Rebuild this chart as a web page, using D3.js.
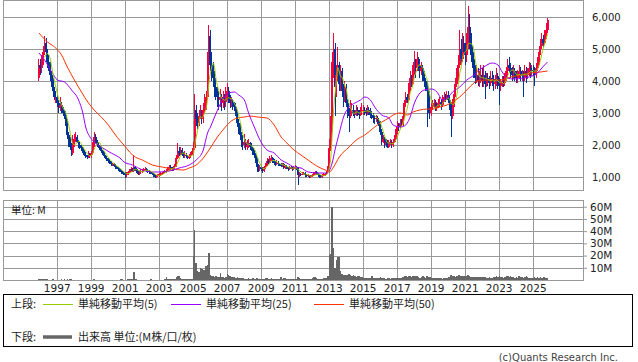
<!DOCTYPE html>
<html>
<head>
<meta charset="utf-8">
<script src="https://cdn.jsdelivr.net/npm/d3@7"></script>
<style>
  body { margin: 0; background: #fff; }
  svg { display: block; font-family: "DejaVu Sans", sans-serif; }
  .jp { font-family: "Noto Sans CJK JP", sans-serif; }
</style>
</head>
<body>
<svg id="chart" width="638" height="362"></svg>
<script>
// monthly candles, Dec 1995 .. Nov 2025 (open = previous close)
const firstMonth = "1995-12";
const firstOpen = 4100;

const close = [
  4500,
  4400, 4700, 4900, 5200, 4900, 4600, 4500, 4200, 4000, 3700, 3500, 3500,
  3300, 3150, 3250, 3100, 3000, 2950, 2700, 2300, 2100, 1950, 1750, 2050,
  2200, 2250, 2100, 2000, 1950, 1900, 1800, 1700, 1650, 1620, 1700, 1650,
  1750, 2000, 2250, 2150, 2050, 1950, 1900, 1800, 1750, 1650, 1600, 1550,
  1500, 1450, 1400, 1400, 1350, 1300, 1280, 1250, 1200, 1150, 1120, 1100,
  1050, 1100, 1150, 1200, 1250, 1200, 1300, 1250, 1180, 1100, 1150, 1180,
  1200, 1220, 1250, 1200, 1180, 1150, 1130, 1100, 1050, 1000, 1020, 1050,
  1080, 1100, 1120, 1150, 1180, 1200, 1250, 1300, 1280, 1250, 1300, 1350,
  1600, 1800, 1750, 1850, 1700, 1650, 1700, 1650, 1600, 1650, 1700, 1750,
  1900, 3100, 2800, 2700, 2900, 3000, 2800, 3100, 3300, 3500, 4500, 5400,
  4500, 4300, 4100, 3800, 3600, 3500, 3400, 3500, 3300, 3450, 3350, 3500,
  3700, 3400, 3300, 3350, 3250, 3200, 3000, 2700, 2500, 2300, 2100, 2000,
  2100, 1950, 2000, 2050, 1950, 1900, 1800, 1700, 1550, 1300, 1250, 1300,
  1250, 1200, 1300, 1400, 1500, 1450, 1550, 1600, 1500, 1450, 1400, 1450,
  1400, 1380, 1350, 1400, 1300, 1320, 1280, 1250, 1300, 1280, 1250, 1300,
  1300, 1250, 1050, 1100, 1080, 1100, 1120, 1050, 1030, 1050, 1000, 1020,
  1050, 1100, 1150, 1100, 1050, 1020, 1000, 1050, 1080, 1100, 1150, 1300,
  1900, 2600, 4600, 5000, 3800, 4200, 4500, 3900, 4300, 3700, 3500, 3800,
  3300, 3000, 2900, 3000, 3100, 3000, 2950, 3100, 3000, 2950, 3050, 3100,
  3100, 3050, 3000, 3100, 3050, 2950, 2900, 2850, 2800, 2850, 2750, 2700,
  2400, 2100, 2200, 2000, 2100, 1950, 2050, 2100, 2000, 2100, 2200, 2400,
  2600, 2550, 2700, 2650, 2900, 3300, 3500, 3400, 3800, 4100, 3900, 4300,
  4600, 4400, 4700, 4500, 4300, 4400, 4200, 4000, 3900, 3700, 3100, 3000,
  3200, 3250, 3300, 3150, 3200, 3300, 3350, 3250, 3400, 3500, 3450, 3550,
  3400, 3200, 2900, 3300, 3600, 3900, 4100, 4500, 5000, 4700, 5200, 4900,
  4800, 5200, 5700, 5300, 4800, 4700, 4300, 4100, 4200, 4000, 4100, 4200,
  4000, 4200, 3900, 4100, 4000, 3950, 4100, 4050, 3900, 4000, 4150, 3900,
  3850, 3900, 4000, 3950, 4100, 4300, 4500, 4400, 4300, 4200, 4300, 4150,
  4100, 4200, 4300, 4150, 4200, 4100, 4300, 4200, 4250, 4400, 4300, 4350,
  4300, 4200, 4400, 4600, 4900, 5100, 5300, 5200, 5400, 5600, 5900
];

const high = [
  4700,
  4700, 4800, 5100, 5400, 5350, 5000, 4800, 4600, 4300, 4100, 3800, 3700,
  3600, 3400, 3500, 3350, 3200, 3100, 3050, 2800, 2400, 2250, 2050, 2300,
  2350, 2400, 2300, 2150, 2100, 2000, 1950, 1850, 1780, 1700, 1800, 1750,
  1800, 2100, 2400, 2350, 2200, 2100, 2000, 1950, 1850, 1780, 1700, 1650,
  1600, 1550, 1500, 1450, 1450, 1400, 1350, 1320, 1280, 1230, 1200, 1160,
  1150, 1150, 1200, 1250, 1300, 1280, 1700, 1350, 1280, 1200, 1200, 1250,
  1260, 1280, 1300, 1280, 1240, 1220, 1190, 1160, 1130, 1080, 1060, 1100,
  1130, 1150, 1160, 1190, 1220, 1250, 1300, 1380, 1360, 1320, 1350, 1420,
  1700, 2050, 1950, 1950, 1900, 1780, 1800, 1750, 1700, 1720, 1780, 1820,
  2100, 3600, 3250, 3000, 3100, 3250, 3100, 3300, 3600, 3700, 4900, 5750,
  5600, 4900, 4600, 4300, 4000, 3800, 3700, 3750, 3600, 3700, 3600, 3800,
  3950, 3800, 3550, 3500, 3450, 3350, 3300, 3100, 2800, 2650, 2400, 2250,
  2350, 2200, 2150, 2200, 2100, 2050, 1950, 1850, 1750, 1600, 1400, 1380,
  1350, 1300, 1350, 1450, 1600, 1560, 1650, 1700, 1620, 1550, 1500, 1520,
  1500, 1450, 1430, 1450, 1430, 1380, 1360, 1320, 1340, 1350, 1320, 1350,
  1380, 1340, 1300, 1150, 1140, 1150, 1170, 1150, 1080, 1090, 1070, 1060,
  1090, 1150, 1200, 1180, 1120, 1080, 1060, 1090, 1120, 1140, 1200, 1350,
  2200, 2900, 4900, 5500, 5200, 4500, 5050, 4600, 4500, 4400, 3900, 4000,
  3900, 3450, 3150, 3400, 3300, 3250, 3100, 3250, 3200, 3100, 3200, 3300,
  3250, 3200, 3150, 3250, 3200, 3150, 3050, 3000, 2950, 2950, 2900, 2850,
  2750, 2500, 2300, 2250, 2200, 2150, 2150, 2200, 2150, 2200, 2300, 2500,
  2750, 2700, 2800, 2800, 3100, 3400, 3650, 3600, 3950, 4300, 4200, 4500,
  4950, 4700, 4900, 4750, 4600, 4600, 4500, 4300, 4100, 4000, 3800, 3300,
  3350, 3400, 3450, 3400, 3350, 3450, 3500, 3450, 3550, 3650, 3600, 3700,
  3700, 3550, 3350, 3450, 3750, 4100, 4400, 4800, 5600, 5300, 5500, 5400,
  5200, 5500, 6340, 6100, 5500, 5100, 4900, 4500, 4500, 4400, 4300, 4500,
  4400, 4500, 4300, 4250, 4250, 4150, 4300, 4300, 4200, 4200, 4400, 4250,
  4100, 4050, 4150, 4150, 4250, 4450, 4700, 4750, 4550, 4450, 4500, 4400,
  4300, 4350, 4500, 4450, 4350, 4300, 4500, 4450, 4400, 4600, 4550, 4500,
  4500, 4450, 4550, 4750, 5050, 5300, 5500, 5450, 5600, 5800, 5970
];

const low = [
  4000,
  4200, 4250, 4500, 4800, 4700, 4400, 4300, 4000, 3800, 3500, 3400, 3300,
  3200, 3000, 3050, 3000, 2900, 2800, 2600, 2200, 1950, 1850, 1650, 1700,
  1950, 2100, 2050, 1900, 1880, 1820, 1750, 1650, 1600, 1560, 1580, 1600,
  1600, 1700, 1950, 2050, 2000, 1900, 1850, 1750, 1700, 1600, 1550, 1500,
  1450, 1400, 1350, 1330, 1300, 1260, 1240, 1200, 1150, 1100, 1080, 1050,
  980, 1000, 1060, 1110, 1150, 1150, 1150, 1200, 1120, 1060, 1060, 1100,
  1140, 1160, 1180, 1160, 1130, 1100, 1080, 1060, 1000, 960, 960, 990,
  1010, 1040, 1060, 1080, 1110, 1140, 1160, 1200, 1230, 1200, 1200, 1270,
  1320, 1550, 1650, 1680, 1650, 1580, 1600, 1580, 1550, 1560, 1600, 1650,
  1700, 1850, 2600, 2500, 2600, 2800, 2650, 2700, 3000, 3100, 3400, 4300,
  4300, 4000, 3800, 3500, 3400, 3200, 3100, 3200, 3050, 3150, 3100, 3200,
  3400, 3300, 3150, 3200, 3100, 3050, 2900, 2550, 2350, 2150, 1950, 1850,
  1900, 1850, 1850, 1900, 1850, 1800, 1700, 1600, 1450, 1150, 1150, 1180,
  1180, 1120, 1150, 1250, 1350, 1400, 1400, 1500, 1450, 1380, 1350, 1360,
  1350, 1330, 1300, 1300, 1260, 1260, 1240, 1200, 1220, 1240, 1200, 1220,
  1240, 1220, 750, 1000, 1040, 1050, 1060, 1000, 990, 990, 960, 970,
  990, 1020, 1070, 1060, 1000, 980, 960, 980, 1020, 1040, 1060, 1120,
  1280, 1800, 2400, 4100, 2900, 3500, 4000, 3700, 3700, 3500, 3200, 3350,
  3200, 2850, 2400, 2850, 2900, 2900, 2850, 2900, 2900, 2800, 2900, 2950,
  2950, 2950, 2900, 2950, 2950, 2850, 2800, 2700, 2650, 2720, 2650, 2600,
  2300, 2000, 2050, 1900, 1950, 1900, 1900, 2000, 1920, 1950, 2050, 2150,
  2350, 2450, 2500, 2550, 2600, 2850, 3200, 3300, 3350, 3700, 3800, 3850,
  4200, 4100, 4300, 4300, 4100, 4200, 4000, 3800, 3700, 2560, 3000, 2800,
  2900, 3100, 3150, 3050, 3050, 3150, 3200, 3100, 3200, 3350, 3350, 3400,
  3300, 3100, 2250, 2800, 3200, 3500, 3800, 4000, 4400, 4500, 4600, 4700,
  4500, 4600, 5000, 5000, 4600, 4400, 4100, 3900, 3950, 3850, 3800, 3950,
  3800, 3800, 3450, 3800, 3850, 3750, 3850, 3850, 3700, 3750, 3850, 3750,
  3250, 3700, 3800, 3800, 3850, 4000, 4150, 4250, 4100, 4000, 4050, 4000,
  3950, 3950, 4050, 4000, 4000, 3500, 4000, 3950, 4050, 4150, 4100, 4150,
  4150, 3850, 4100, 4300, 4500, 4800, 5000, 5050, 5150, 5300, 5500
];

// volume, millions
const volume = [
  0.8,
  1.2, 0.8, 0.6, 0.7, 0.5, 0.5, 0.4, 0.4, 0.4, 0.5, 0.4, 0.4,
  0.4, 0.3, 0.3, 1.0, 0.3, 0.5, 0.4, 0.6, 0.4, 0.6, 0.5, 0.4,
  0.4, 0.3, 0.3, 0.3, 0.3, 0.3, 0.3, 0.3, 0.3, 0.3, 0.3, 0.3,
  0.3, 0.4, 0.5, 0.4, 0.3, 0.3, 0.3, 0.3, 0.3, 0.3, 0.3, 0.3,
  0.3, 0.3, 0.3, 0.3, 0.3, 0.3, 0.3, 0.3, 0.4, 0.8, 0.5, 0.3,
  0.4, 0.4, 0.5, 0.5, 0.6, 0.5, 6.3, 0.8, 0.5, 0.4, 0.4, 0.4,
  0.4, 0.4, 0.4, 0.4, 0.4, 0.4, 0.8, 0.4, 0.4, 0.4, 0.3, 0.3,
  0.3, 0.3, 0.3, 0.4, 0.5, 2.7, 1.2, 0.8, 0.6, 1.0, 0.6, 0.7,
  2.5, 3.3, 3.0, 1.5, 1.2, 1.0, 0.8, 1.0, 0.8, 0.9, 1.0, 1.2,
  20, 41, 14, 7, 6.5, 9.5, 9, 8, 8.5, 11.5, 12, 22.4,
  4.5, 3.5, 3.0, 2.5, 3.0, 2.5, 2.2, 5.5, 2.8, 2.5, 2.0, 2.2,
  4.9, 4.0, 3.0, 2.5, 2.5, 2.2, 2.0, 2.5, 1.8, 1.5, 1.5, 1.3,
  1.2, 1.0, 1.2, 1.5, 1.0, 1.0, 2.0, 0.8, 1.2, 1.8, 1.2, 1.0,
  0.9, 0.8, 1.0, 1.3, 2.0, 1.2, 1.0, 1.8, 1.0, 0.9, 0.8, 0.8,
  0.8, 0.7, 2.7, 1.0, 1.5, 1.5, 1.0, 0.9, 0.8, 0.8, 0.7, 0.8,
  0.9, 0.8, 2.2, 1.5, 1.0, 0.9, 0.8, 0.9, 0.8, 0.8, 0.7, 0.8,
  2.0, 2.5, 2.5, 1.5, 1.0, 0.9, 1.0, 1.2, 1.3, 1.5, 2.0, 3.0,
  20.5, 21, 60, 26, 10, 16.5, 19, 19, 7, 5, 4.5, 4,
  4.5, 4.0, 5.0, 4.5, 3.5, 4.0, 3.0, 2.5, 3.5, 3.0, 2.5, 2.2,
  2.0, 2.0, 1.8, 2.0, 1.5, 1.8, 3.0, 2.0, 1.5, 1.8, 1.5, 1.5,
  2.5, 2.0, 1.8, 1.5, 1.2, 1.3, 1.5, 1.2, 1.5, 1.3, 1.6, 2.0,
  2.0, 1.5, 1.8, 1.5, 2.5, 3.0, 3.5, 2.5, 3.0, 3.2, 2.5, 3.0,
  3.5, 3.0, 3.0, 2.5, 2.0, 2.5, 3.5, 2.5, 2.0, 3.0, 2.5, 2.2,
  2.0, 1.5, 1.5, 1.8, 1.5, 1.3, 1.5, 1.3, 1.2, 1.5, 1.3, 1.5,
  2.5, 2.5, 3.8, 3.5, 3.0, 2.5, 3.0, 4.5, 4.0, 3.0, 3.5, 3.0,
  3.0, 3.5, 4.0, 3.0, 2.5, 2.5, 2.5, 2.5, 2.5, 2.5, 2.2, 2.5,
  2.5, 2.5, 2.5, 2.0, 2.0, 2.5, 2.0, 2.0, 2.5, 2.2, 3.0, 2.5,
  3.0, 2.5, 2.5, 2.0, 2.5, 3.5, 3.0, 2.5, 3.0, 2.5, 2.5, 2.0,
  2.5, 2.0, 3.0, 2.5, 2.5, 2.0, 2.5, 3.0, 2.5, 2.0, 2.0, 2.0,
  2.0, 2.5, 2.0, 2.5, 2.0, 2.5, 2.0, 2.5, 2.5, 2.0, 1.5
];

// 25- and 50-month averages
const ma25Months = [
  "1995-12", "1996-04", "1996-09", "1997-01", "1997-06", "1997-11", "1998-04", "1998-07",
  "1998-09", "1998-12", "1999-03", "1999-08", "2000-03", "2000-10", "2000-12", "2001-06",
  "2002-01", "2002-08", "2003-01", "2003-08", "2004-03", "2004-10", "2005-03", "2005-08",
  "2005-11", "2006-01", "2006-04", "2006-07", "2006-11", "2007-02", "2007-06", "2007-09",
  "2008-01", "2008-04", "2008-08", "2008-12", "2009-05", "2009-10", "2010-03", "2010-07",
  "2010-12", "2011-05", "2011-10", "2012-05", "2012-11", "2013-03", "2013-05", "2013-08",
  "2013-11", "2014-03", "2014-07", "2014-11", "2015-02", "2015-06", "2015-09", "2016-02",
  "2016-07", "2016-10", "2017-03", "2017-06", "2017-10", "2018-01", "2018-05", "2018-08",
  "2019-01", "2019-05", "2019-09", "2020-01", "2020-04", "2020-09", "2021-02", "2021-07",
  "2021-09", "2022-02", "2022-08", "2022-12", "2023-03", "2023-07", "2023-11", "2024-06",
  "2024-12", "2025-04", "2025-07", "2025-11"
];
const ma25 = [
  4875, 4656, 4281, 4031, 3969, 3719, 3406, 3000,
  2562, 2250, 2094, 1937, 1750, 1562, 1469, 1375,
  1219, 1156, 1156, 1187, 1281, 1375, 1531, 1844,
  2375, 2562, 2875, 3187, 3500, 3625, 3656, 3562,
  3406, 3000, 2562, 2156, 1844, 1750, 1531, 1437,
  1312, 1281, 1156, 1125, 1125, 1437, 1844, 2375,
  2875, 3187, 3312, 3406, 3500, 3406, 3187, 2937,
  2844, 2625, 2562, 2594, 2875, 3312, 3625, 3719,
  3750, 3656, 3406, 3500, 3656, 3812, 4031, 4187,
  4281, 4437, 4562, 4500, 4281, 4094, 4062, 4094,
  4156, 4250, 4406, 4594
];

const ma50Months = [
  "1995-12", "1996-06", "1996-11", "1997-04", "1997-08", "1998-01", "1998-06", "1998-11",
  "1999-03", "1999-08", "2000-01", "2000-05", "2000-10", "2000-12", "2001-04", "2001-08",
  "2002-01", "2002-08", "2003-03", "2003-10", "2004-06", "2004-10", "2005-03", "2005-08",
  "2005-12", "2006-06", "2006-11", "2007-03", "2007-08", "2008-01", "2008-05", "2008-10",
  "2009-05", "2009-10", "2010-03", "2010-07", "2010-12", "2011-05", "2011-10", "2012-04",
  "2012-10", "2013-01", "2013-04", "2013-08", "2014-03", "2014-08", "2015-02", "2015-09",
  "2016-02", "2016-07", "2016-10", "2017-03", "2017-08", "2017-12", "2018-05", "2018-10",
  "2019-02", "2019-07", "2019-12", "2020-04", "2020-09", "2021-02", "2021-07", "2021-09",
  "2022-04", "2023-02", "2023-09", "2024-04", "2024-11", "2025-06", "2025-11"
];
const ma50 = [
  5500, 5219, 5062, 4812, 4437, 4031, 3656, 3312,
  3094, 2875, 2625, 2375, 2094, 2000, 1781, 1625,
  1531, 1375, 1312, 1250, 1219, 1281, 1375, 1594,
  1844, 2250, 2531, 2719, 2844, 2875, 2906, 2875,
  2844, 2625, 2250, 2062, 1844, 1687, 1531, 1344,
  1219, 1156, 1312, 1625, 1937, 2156, 2312, 2562,
  2719, 2844, 2937, 3000, 2937, 3031, 3094, 3125,
  3125, 3187, 3250, 3344, 3500, 3719, 3937, 4000,
  4031, 4031, 4125, 4187, 4250, 4281, 4312
];

const priceTicks = [1000, 2000, 3000, 4000, 5000, 6000];
const volumeTicks = [10, 20, 30, 40, 50, 60];
const yearTicks = d3.range(1997, 2026, 2);

const colors = {
  up: "#f5003c", down: "#003399",
  ma5: "#99cc00", ma25: "#9900ff", ma50: "#ff3300",
  grid: "#999999", volume: "#666666"
};

const parseMonth = d3.timeParse("%Y-%m");
const start = parseMonth(firstMonth);
const candles = close.map((c, i) => ({
  date: d3.timeMonth.offset(start, i),
  open: i ? close[i - 1] : firstOpen,
  close: c,
  high: high[i],
  low: low[i],
  volume: volume[i]
}));

const svg = d3.select("#chart");
const frame = { left: 3, right: 583 };
const upper = { top: 0, bottom: 190 };
const lower = { top: 200, bottom: 280 };

const x = d3.scaleTime()
  .domain([new Date(1997, 0, 1), new Date(2025, 0, 1)])
  .range([56.7, 532.7]);
const y = d3.scaleLinear().domain([1000, 6000]).range([177, 17]);
const yVol = d3.scaleLinear().domain([0, 60]).range([280, 206.7]);

const monthLeft = d => x(d);
const monthWidth = d => x(d3.timeMonth.offset(d, 1)) - x(d);
const monthMid = d => monthLeft(d) + monthWidth(d) / 2;
const px = v => Math.round(v) + 0.5;

// grids
function drawGrid(g, panel, ticks, scale) {
  g.attr("shape-rendering", "crispEdges")
    .attr("stroke", colors.grid).attr("stroke-width", 1);
  g.selectAll(".h").data(ticks).join("line")
    .attr("x1", frame.left).attr("x2", frame.right)
    .attr("y1", d => px(scale(d))).attr("y2", d => px(scale(d)));
  g.selectAll(".v").data(yearTicks).join("line")
    .attr("x1", d => px(x(new Date(d, 0, 1))))
    .attr("x2", d => px(x(new Date(d, 0, 1))))
    .attr("y1", panel.top).attr("y2", panel.bottom);
  g.append("rect")
    .attr("x", frame.left + 0.5).attr("y", panel.top + 0.5)
    .attr("width", frame.right - frame.left).attr("height", panel.bottom - panel.top)
    .attr("fill", "none");
}
drawGrid(svg.append("g"), upper, priceTicks, y);
drawGrid(svg.append("g"), lower, volumeTicks, yVol);

// candles
const candleG = svg.append("g").attr("shape-rendering", "crispEdges");
candleG.selectAll("line").data(candles).join("line")
  .attr("x1", d => monthMid(d.date)).attr("x2", d => monthMid(d.date))
  .attr("y1", d => y(d.high)).attr("y2", d => y(d.low))
  .attr("stroke", d => d.close >= d.open ? colors.up : colors.down)
  .attr("stroke-width", 1);
candleG.selectAll("rect").data(candles).join("rect")
  .attr("x", d => monthMid(d.date) - 1)
  .attr("width", 2)
  .attr("y", d => y(Math.max(d.open, d.close)))
  .attr("height", d => Math.max(1, Math.abs(y(d.open) - y(d.close))))
  .attr("fill", d => d.close >= d.open ? colors.up : colors.down);

// moving averages
const ma5 = d3.range(4, close.length).map(i => ({
  date: candles[i].date,
  value: d3.mean(close.slice(i - 4, i + 1))
}));
const toPoints = (months, values) =>
  months.map((m, i) => ({ date: parseMonth(m), value: values[i] }));

const maLine = d3.line()
  .curve(d3.curveMonotoneX)
  .x(d => monthMid(d.date))
  .y(d => y(d.value));

[[toPoints(ma50Months, ma50), colors.ma50],
 [toPoints(ma25Months, ma25), colors.ma25],
 [ma5, colors.ma5]].forEach(([data, color]) => {
  svg.append("path")
    .datum(data)
    .attr("fill", "none")
    .attr("stroke", color)
    .attr("stroke-width", 1)
    .attr("d", maLine);
});

// volume
svg.append("g").attr("shape-rendering", "crispEdges")
  .selectAll("rect").data(candles).join("rect")
  .attr("x", d => monthLeft(d.date))
  .attr("width", d => monthWidth(d.date))
  .attr("y", d => yVol(d.volume))
  .attr("height", d => yVol(0) - yVol(d.volume))
  .attr("fill", colors.volume);

// axes
svg.append("g")
  .attr("transform", `translate(${frame.right},0)`)
  .call(d3.axisRight(y).tickValues(priceTicks).tickFormat(d3.format(",")).tickSize(0).tickPadding(9))
  .call(g => g.select(".domain").remove())
  .call(g => g.selectAll("text").attr("font-size", 10).attr("font-family", "DejaVu Sans").attr("fill", "#222"));

svg.append("g")
  .attr("transform", `translate(${frame.right},0)`)
  .call(d3.axisRight(yVol).tickValues(volumeTicks).tickFormat(d => d + "M").tickSize(4).tickPadding(3))
  .call(g => g.select(".domain").remove())
  .call(g => g.selectAll("line").attr("stroke", colors.grid))
  .call(g => g.selectAll("text").attr("font-size", 10.5).attr("font-family", "DejaVu Sans").attr("fill", "#222"));

svg.append("g")
  .attr("transform", `translate(0,${lower.bottom})`)
  .call(d3.axisBottom(x).tickValues(yearTicks.map(yr => new Date(yr, 0, 1)))
    .tickFormat(d3.timeFormat("%Y")).tickSize(0).tickPadding(5))
  .call(g => g.select(".domain").remove())
  .call(g => g.selectAll("text").attr("font-size", 10.5).attr("font-family", "DejaVu Sans").attr("fill", "#222"));

svg.append("text").attr("class", "jp")
  .attr("x", 11).attr("y", 214)
  .attr("font-size", 10.5).attr("fill", "#222")
  .text("単位: M");

// legend
const legend = svg.append("g").attr("class", "jp").attr("font-size", 11).attr("fill", "#222");
legend.append("rect")
  .attr("x", 3.5).attr("y", 294.5).attr("width", 629).attr("height", 52)
  .attr("fill", "none").attr("stroke", "#000").attr("shape-rendering", "crispEdges");

const legendItems = [
  { x: 43, label: "単純移動平均(5)", color: colors.ma5 },
  { x: 171, label: "単純移動平均(25)", color: colors.ma25 },
  { x: 314, label: "単純移動平均(50)", color: colors.ma50 }
];
legend.append("text").attr("x", 11).attr("y", 308).text("上段:");
legendItems.forEach(item => {
  legend.append("line")
    .attr("x1", item.x).attr("x2", item.x + 30)
    .attr("y1", 304.5).attr("y2", 304.5)
    .attr("stroke", item.color).attr("stroke-width", 1)
    .attr("shape-rendering", "crispEdges");
  legend.append("text").attr("x", item.x + 35).attr("y", 308).text(item.label);
});
legend.append("text").attr("x", 11).attr("y", 341).text("下段:");
legend.append("line")
  .attr("x1", 43).attr("x2", 72).attr("y1", 337).attr("y2", 337)
  .attr("stroke", colors.volume).attr("stroke-width", 3.5);
legend.append("text").attr("x", 78).attr("y", 341).text("出来高 単位:(M株/口/枚)");

svg.append("text")
  .attr("x", 618).attr("y", 361)
  .attr("text-anchor", "end")
  .attr("font-size", 10).attr("fill", "#444")
  .text("(c)Quants Research Inc.");
</script>
</body>
</html>
